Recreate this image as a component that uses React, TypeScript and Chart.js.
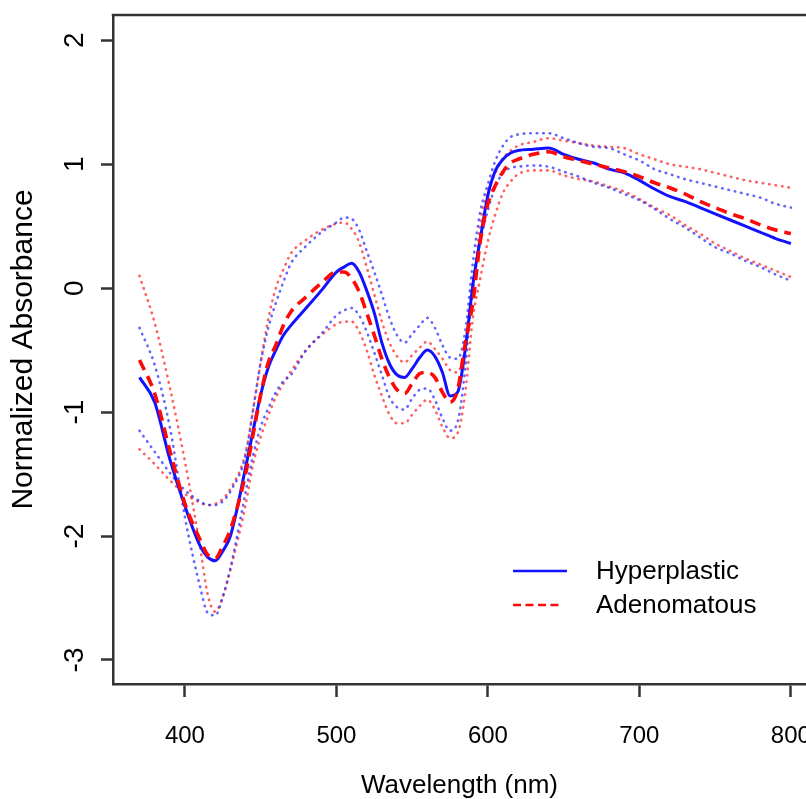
import React, { useEffect, useRef } from "react";
import { Chart, registerables } from "chart.js";

Chart.register(...registerables);

// Wavelength grid (nm)
const wavelengths = [
  370, 380, 390, 400, 410, 415, 420, 425, 430, 440, 445, 450, 455, 460, 465, 470,
  480, 490, 500,
  505, 510, 515, 520, 525, 530, 535, 540, 545, 550, 555, 560, 565, 570, 575, 580, 585, 590, 595, 600, 605, 610, 615, 620,
  630, 640, 650, 660, 670, 680, 690, 700, 710, 720, 730, 740, 750, 760, 770, 780, 790, 800,
];

const hyperplasticMean = [
  -0.72, -0.92, -1.38, -1.76, -2.08, -2.17, -2.2, -2.12, -2.0, -1.45, -1.15, -0.86, -0.64, -0.5, -0.38, -0.3,
  -0.16, -0.02, 0.13,
  0.17, 0.2, 0.13, -0.02, -0.2, -0.44, -0.61, -0.7, -0.72, -0.65, -0.56, -0.5, -0.55, -0.68, -0.87, -0.84, -0.5, 0.02, 0.4, 0.75, 0.95, 1.04, 1.09, 1.11,
  1.12, 1.13, 1.08, 1.04, 1.01, 0.96, 0.93, 0.87, 0.8, 0.74, 0.7, 0.65, 0.6, 0.55, 0.5, 0.45, 0.4, 0.36,
];

const adenomatousMean = [
  -0.58, -0.85, -1.31, -1.74, -2.03, -2.15, -2.18, -2.08, -1.95, -1.5, -1.18, -0.86, -0.6, -0.46, -0.3, -0.19,
  -0.07, 0.04, 0.13,
  0.13, 0.08, -0.03, -0.2, -0.38, -0.57, -0.72, -0.82, -0.85, -0.77, -0.69, -0.68, -0.72, -0.84, -0.92, -0.82, -0.45, -0.12, 0.38, 0.68, 0.83, 0.94, 1.01, 1.04,
  1.08, 1.1, 1.06, 1.03, 1.0, 0.97, 0.94, 0.9, 0.85, 0.81, 0.76, 0.7, 0.65, 0.6, 0.56, 0.51, 0.47, 0.44,
];

const hyperplasticBandA = [
  -1.15, -1.32, -1.49, -1.63, -1.72, -1.75, -1.75, -1.72, -1.64, -1.35, -0.98, -0.6, -0.32, -0.12, 0.05, 0.2,
  0.34, 0.45, 0.53,
  0.57, 0.56, 0.47, 0.3, 0.13, -0.05, -0.24, -0.38, -0.44, -0.37, -0.3, -0.24, -0.32, -0.46, -0.56, -0.57, -0.35, 0.2, 0.62, 0.84, 1.03, 1.15, 1.22, 1.24,
  1.25, 1.25, 1.21, 1.17, 1.14, 1.13, 1.08, 1.03, 0.96, 0.92, 0.88, 0.85, 0.82, 0.79, 0.76, 0.73, 0.68, 0.65,
];

const hyperplasticBandB = [
  -0.32, -0.62, -1.12, -1.85, -2.41, -2.62, -2.64, -2.49, -2.26, -1.65, -1.35, -1.12, -0.97, -0.84, -0.75, -0.7,
  -0.5, -0.37, -0.22,
  -0.18, -0.16, -0.22, -0.35, -0.52, -0.7, -0.88, -0.96, -0.98, -0.89, -0.82, -0.81, -0.9, -1.05, -1.15, -1.08, -0.65, 0.05, 0.38, 0.63, 0.82, 0.93, 0.97, 0.98,
  0.99, 0.98, 0.94, 0.9, 0.85, 0.81, 0.76, 0.71, 0.64, 0.56, 0.49, 0.41, 0.33, 0.28, 0.22, 0.17, 0.11, 0.06,
];

const adenomatousBandA = [
  -1.3, -1.42, -1.55, -1.66, -1.73, -1.75, -1.74, -1.7, -1.62, -1.33, -0.98, -0.6, -0.25, 0.0, 0.15, 0.28,
  0.39, 0.47, 0.52,
  0.53, 0.48, 0.37, 0.17, -0.05, -0.27, -0.44, -0.55, -0.6, -0.54, -0.48, -0.43, -0.49, -0.57, -0.66, -0.68, -0.48, -0.05, 0.52, 0.78, 0.93, 1.05, 1.11, 1.15,
  1.18, 1.21, 1.19, 1.17, 1.15, 1.14, 1.13, 1.08, 1.04, 1.0, 0.98, 0.96, 0.93, 0.9, 0.87, 0.85, 0.83, 0.81,
];

const adenomatousBandB = [
  0.1, -0.28, -0.8, -1.4, -2.09, -2.47, -2.61, -2.49, -2.27, -1.75, -1.42, -1.2, -1.03, -0.88, -0.77, -0.67,
  -0.5, -0.38, -0.29,
  -0.27, -0.27, -0.35, -0.5, -0.7, -0.87, -1.02, -1.09, -1.09, -1.02, -0.95, -0.9, -0.98, -1.12, -1.21, -1.17, -0.85, -0.25, 0.08, 0.38, 0.6, 0.77, 0.86, 0.92,
  0.95, 0.95, 0.91, 0.88, 0.86, 0.82, 0.78, 0.72, 0.65, 0.59, 0.51, 0.44, 0.36, 0.3, 0.24, 0.19, 0.14, 0.09,
];

const xTicks = [400, 500, 600, 700, 800];
const yTicks = [-3, -2, -1, 0, 1, 2];
const seriesNames = ["Hyperplastic", "Adenomatous"];

const FONT = '"Liberation Sans", Arial, Helvetica, sans-serif';
const BLUE = "rgb(18,18,255)";
const RED = "rgb(255,8,8)";
const BLUE_DOT = "rgba(40,40,255,0.72)";
const RED_DOT = "rgba(255,35,35,0.72)";

const pts = (arr: number[]) => wavelengths.map((w, i) => ({ x: w, y: arr[i] }));

const bgPlugin = {
  id: "bg",
  beforeDraw(chart: any) {
    const { ctx, width, height } = chart;
    ctx.save();
    ctx.fillStyle = "#fff";
    ctx.fillRect(0, 0, width, height);
    ctx.restore();
  },
};

const framePlugin = {
  id: "frameAndLabels",
  afterDraw(chart: any) {
    const { ctx, chartArea } = chart;
    const ys = chart.scales.y;
    ctx.save();
    // top border
    ctx.strokeStyle = "#333";
    ctx.lineWidth = 2.5;
    ctx.beginPath();
    ctx.moveTo(chartArea.left - 1.25, chartArea.top);
    ctx.lineTo(chart.width, chartArea.top);
    ctx.stroke();
    // rotated y tick labels
    ctx.fillStyle = "#000";
    ctx.font = `28px ${FONT}`;
    ctx.textAlign = "center";
    ctx.textBaseline = "alphabetic";
    yTicks.forEach((v) => {
      const y = ys.getPixelForValue(v);
      ctx.save();
      ctx.translate(83, y);
      ctx.rotate(-Math.PI / 2);
      ctx.fillText(String(v), 0, 0);
      ctx.restore();
    });
    // legend
    const ds = chart.data.datasets;
    const items = [
      { ds: ds[1], y: 571, len: 54, dash: [] as number[] },
      { ds: ds[0], y: 605, len: 49, dash: [8, 4.5] },
    ];
    items.forEach((it) => {
      ctx.save();
      ctx.strokeStyle = it.ds.borderColor;
      ctx.lineWidth = 2.6;
      ctx.setLineDash(it.dash);
      ctx.beginPath();
      ctx.moveTo(513, it.y);
      ctx.lineTo(513 + it.len, it.y);
      ctx.stroke();
      ctx.restore();
      ctx.fillStyle = "#000";
      ctx.font = `26px ${FONT}`;
      ctx.textAlign = "left";
      ctx.textBaseline = "middle";
      ctx.fillText(it.ds.label, 596, it.y + 1);
    });
    ctx.restore();
  },
};

export default function App() {
  const ref = useRef<HTMLCanvasElement>(null);
  useEffect(() => {
    const canvas = ref.current!;
    const common = { pointRadius: 0, fill: false, cubicInterpolationMode: "monotone" as const };
    const chart = new Chart(canvas, {
      type: "line",
      data: {
        datasets: [
          { ...common, label: seriesNames[1], data: pts(adenomatousMean), borderColor: RED, borderWidth: 3.6, borderDash: [11, 7] },
          { ...common, label: seriesNames[0], data: pts(hyperplasticMean), borderColor: BLUE, borderWidth: 3 },
          { ...common, label: seriesNames[0] + " band", data: pts(hyperplasticBandA), borderColor: BLUE_DOT, borderWidth: 2.6, borderDash: [0.5, 6], borderCapStyle: "round" },
          { ...common, label: seriesNames[0] + " band", data: pts(hyperplasticBandB), borderColor: BLUE_DOT, borderWidth: 2.6, borderDash: [0.5, 6], borderCapStyle: "round" },
          { ...common, label: seriesNames[1] + " band", data: pts(adenomatousBandA), borderColor: RED_DOT, borderWidth: 2.6, borderDash: [0.5, 6], borderCapStyle: "round" },
          { ...common, label: seriesNames[1] + " band", data: pts(adenomatousBandB), borderColor: RED_DOT, borderWidth: 2.6, borderDash: [0.5, 6], borderCapStyle: "round" },
        ] as any,
      },
      options: {
        animation: false,
        responsive: false,
        maintainAspectRatio: false,
        layout: { padding: { top: 15, right: 0, bottom: 0, left: 0 } },
        plugins: { legend: { display: false }, tooltip: { enabled: false } },
        scales: {
          x: {
            type: "linear",
            min: 352.5,
            max: 810,
            afterFit: (s: any) => { s.height = 115; s.paddingLeft = 0; s.paddingRight = 0; },
            afterBuildTicks: (s: any) => { s.ticks = xTicks.map((v) => ({ value: v })); },
            ticks: {
              autoSkip: false,
              maxRotation: 0,
              minRotation: 0,
              padding: 25,
              color: "#000",
              font: { family: FONT, size: 24 },
            },
            grid: { drawOnChartArea: false, drawTicks: true, tickLength: 13, tickWidth: 2.5, tickColor: "#333", color: "#333" },
            border: { display: true, color: "#333", width: 2.5 },
            title: {
              display: true,
              text: "Wavelength (nm)",
              color: "#000",
              font: { family: FONT, size: 26, lineHeight: 1 },
              padding: { top: 0, bottom: 0 },
            },
          },
          y: {
            type: "linear",
            min: -3.194,
            max: 2.204,
            afterFit: (s: any) => { s.width = 113; s.paddingTop = 0; s.paddingBottom = 0; },
            afterBuildTicks: (s: any) => { s.ticks = yTicks.map((v) => ({ value: v })); },
            ticks: { display: false },
            grid: { drawOnChartArea: false, drawTicks: true, tickLength: 12, tickWidth: 2.5, tickColor: "#333", color: "#333" },
            border: { display: true, color: "#333", width: 2.5 },
            title: {
              display: true,
              text: "Normalized Absorbance",
              color: "#000",
              font: { family: FONT, size: 30, lineHeight: 1 },
              padding: { top: 9, bottom: 0 },
            },
          },
        },
      },
      plugins: [bgPlugin, framePlugin],
    });
    return () => chart.destroy();
  }, []);
  return (
    <div style={{ position: "absolute", left: 0, top: 0, width: 806, height: 799, background: "#fff" }}>
      <canvas ref={ref} width={806} height={799} style={{ display: "block", width: 806, height: 799 }} />
    </div>
  );
}
